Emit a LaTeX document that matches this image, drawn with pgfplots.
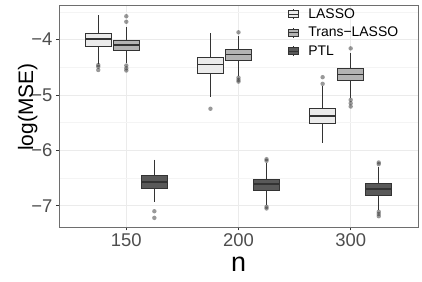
\documentclass[border=0pt]{standalone}
\usepackage{fontspec}
\setmainfont{Liberation Sans}
\usepackage{pgfplots}
\pgfplotsset{compat=1.18}
\usepgfplotslibrary{statistics}
\definecolor{cL}{HTML}{EBEBEB}
\definecolor{cT}{HTML}{B3B3B3}
\definecolor{cP}{HTML}{595959}
\definecolor{cEdge}{HTML}{333333}
\definecolor{gridmaj}{HTML}{EBEBEB}
\definecolor{gridmin}{HTML}{F4F4F4}
\definecolor{ticklab}{HTML}{4D4D4D}
\definecolor{border}{HTML}{6E6E6E}
\pgfplotsset{
  boxbase/.style={draw=cEdge, line width=0.75bp, mark=none,
    boxplot/whisker extend=0,
    boxplot/every median/.style={line width=1.6bp}},
  legbox/.style={legend image code/.code={
    \draw[cEdge, line width=0.6bp] (4.7bp,-5bp) -- (4.7bp,5bp);
    \draw[draw=cEdge, fill=#1, line width=0.6bp] (0bp,-3.3bp) rectangle (9.4bp,3.3bp);
    \draw[cEdge, line width=0.9bp] (0bp,0bp) -- (9.4bp,0bp);
    \path (19.5bp,0bp);}},
}
\pgfplotstableread{
x y
0.75 -4.46
0.75 -4.49
0.75 -4.55
1.00 -3.58
1.00 -3.68
1.00 -4.47
1.00 -4.52
1.00 -4.56
1.25 -7.10
1.25 -7.22
1.75 -5.25
2.00 -3.87
2.00 -4.69
2.00 -4.73
2.00 -4.76
2.25 -6.16
2.25 -6.19
2.25 -7.02
2.25 -7.05
2.75 -4.68
2.75 -4.80
3.00 -4.16
3.00 -5.09
3.00 -5.15
3.00 -5.21
3.25 -6.22
3.25 -6.25
3.25 -7.11
3.25 -7.15
3.25 -7.19
}\outliers
\begin{document}
\begin{tikzpicture}
\useasboundingbox (0bp,0bp) rectangle (422bp,282bp);
\begin{axis}[
  at={(59bp,54.7bp)}, anchor=south west,
  scale only axis, width=359bp, height=222.3bp,
  boxplot/draw direction=y,
  xmin=0.4, xmax=3.6, ymin=-7.39, ymax=-3.377,
  xtick={1,2,3}, xticklabels={150,200,300},
  ytick={-7,-6,-5,-4}, yticklabels={−7,−6,−5,−4},
  minor ytick={-7.5,-6.5,-5.5,-4.5,-3.5},
  grid=both,
  major grid style={draw=gridmaj, line width=0.8bp},
  minor grid style={draw=gridmin, line width=0.5bp},
  axis line style={draw=border, line width=0.6bp},
  tick pos=left, tick align=outside,
  major tick length=3bp, minor tick length=0pt,
  tick style={draw=cEdge, line width=0.6bp},
  tick label style={font=\fontsize{18.5}{20}\selectfont, text=ticklab},
  xlabel={n}, ylabel={log(MSE)},
  xlabel style={font=\fontsize{27}{27}\selectfont, at={(axis description cs:0.5,-0.201)}, anchor=base},
  ylabel style={font=\fontsize{21}{21}\selectfont, at={(axis description cs:-0.0724,0.54)}, anchor=base},
  legend style={draw=none, fill=none, at={(axis description cs:0.638,0.99)}, anchor=north west,
    inner sep=0pt, font=\fontsize{14}{14}\selectfont, row sep=5.3bp,
    nodes={inner xsep=0bp, inner ysep=1bp}},
  legend cell align=left,
]
% n = 150
\addplot[forget plot, boxbase, fill=cL, boxplot prepared={draw position=0.75, lower whisker=-4.44, lower quartile=-4.12, median=-3.99, upper quartile=-3.89, upper whisker=-3.56, box extend=0.23}]
  coordinates {};
\addplot[forget plot, boxbase, fill=cT, boxplot prepared={draw position=1.0, lower whisker=-4.43, lower quartile=-4.19, median=-4.10, upper quartile=-4.01, upper whisker=-3.77, box extend=0.23}]
  coordinates {};
\addplot[forget plot, boxbase, fill=cP, boxplot prepared={draw position=1.25, lower whisker=-6.93, lower quartile=-6.68, median=-6.57, upper quartile=-6.46, upper whisker=-6.17, box extend=0.23}]
  coordinates {};
% n = 200
\addplot[forget plot, boxbase, fill=cL, boxplot prepared={draw position=1.75, lower whisker=-5.03, lower quartile=-4.62, median=-4.45, upper quartile=-4.32, upper whisker=-3.89, box extend=0.23}]
  coordinates {};
\addplot[forget plot, boxbase, fill=cT, boxplot prepared={draw position=2.0, lower whisker=-4.66, lower quartile=-4.38, median=-4.27, upper quartile=-4.18, upper whisker=-3.93, box extend=0.23}]
  coordinates {};
\addplot[forget plot, boxbase, fill=cP, boxplot prepared={draw position=2.25, lower whisker=-6.99, lower quartile=-6.72, median=-6.61, upper quartile=-6.52, upper whisker=-6.23, box extend=0.23}]
  coordinates {};
% n = 300
\addplot[forget plot, boxbase, fill=cL, boxplot prepared={draw position=2.75, lower whisker=-5.87, lower quartile=-5.51, median=-5.38, upper quartile=-5.24, upper whisker=-4.84, box extend=0.23}]
  coordinates {};
\addplot[forget plot, boxbase, fill=cT, boxplot prepared={draw position=3.0, lower whisker=-5.06, lower quartile=-4.74, median=-4.63, upper quartile=-4.52, upper whisker=-4.25, box extend=0.23}]
  coordinates {};
\addplot[forget plot, boxbase, fill=cP, boxplot prepared={draw position=3.25, lower whisker=-7.08, lower quartile=-6.81, median=-6.70, upper quartile=-6.60, upper whisker=-6.30, box extend=0.23}]
  coordinates {};
% outliers
\addplot[forget plot, only marks, mark=*, mark size=2.2bp, draw opacity=0,
  mark options={fill=cEdge, draw opacity=0, fill opacity=0.5}] table[x=x, y=y] {\outliers};
\addlegendimage{legbox=cL}
\addlegendentry{LASSO}
\addlegendimage{legbox=cT}
\addlegendentry{Trans−LASSO}
\addlegendimage{legbox=cP}
\addlegendentry{PTL}
\end{axis}
\end{tikzpicture}
\end{document}
